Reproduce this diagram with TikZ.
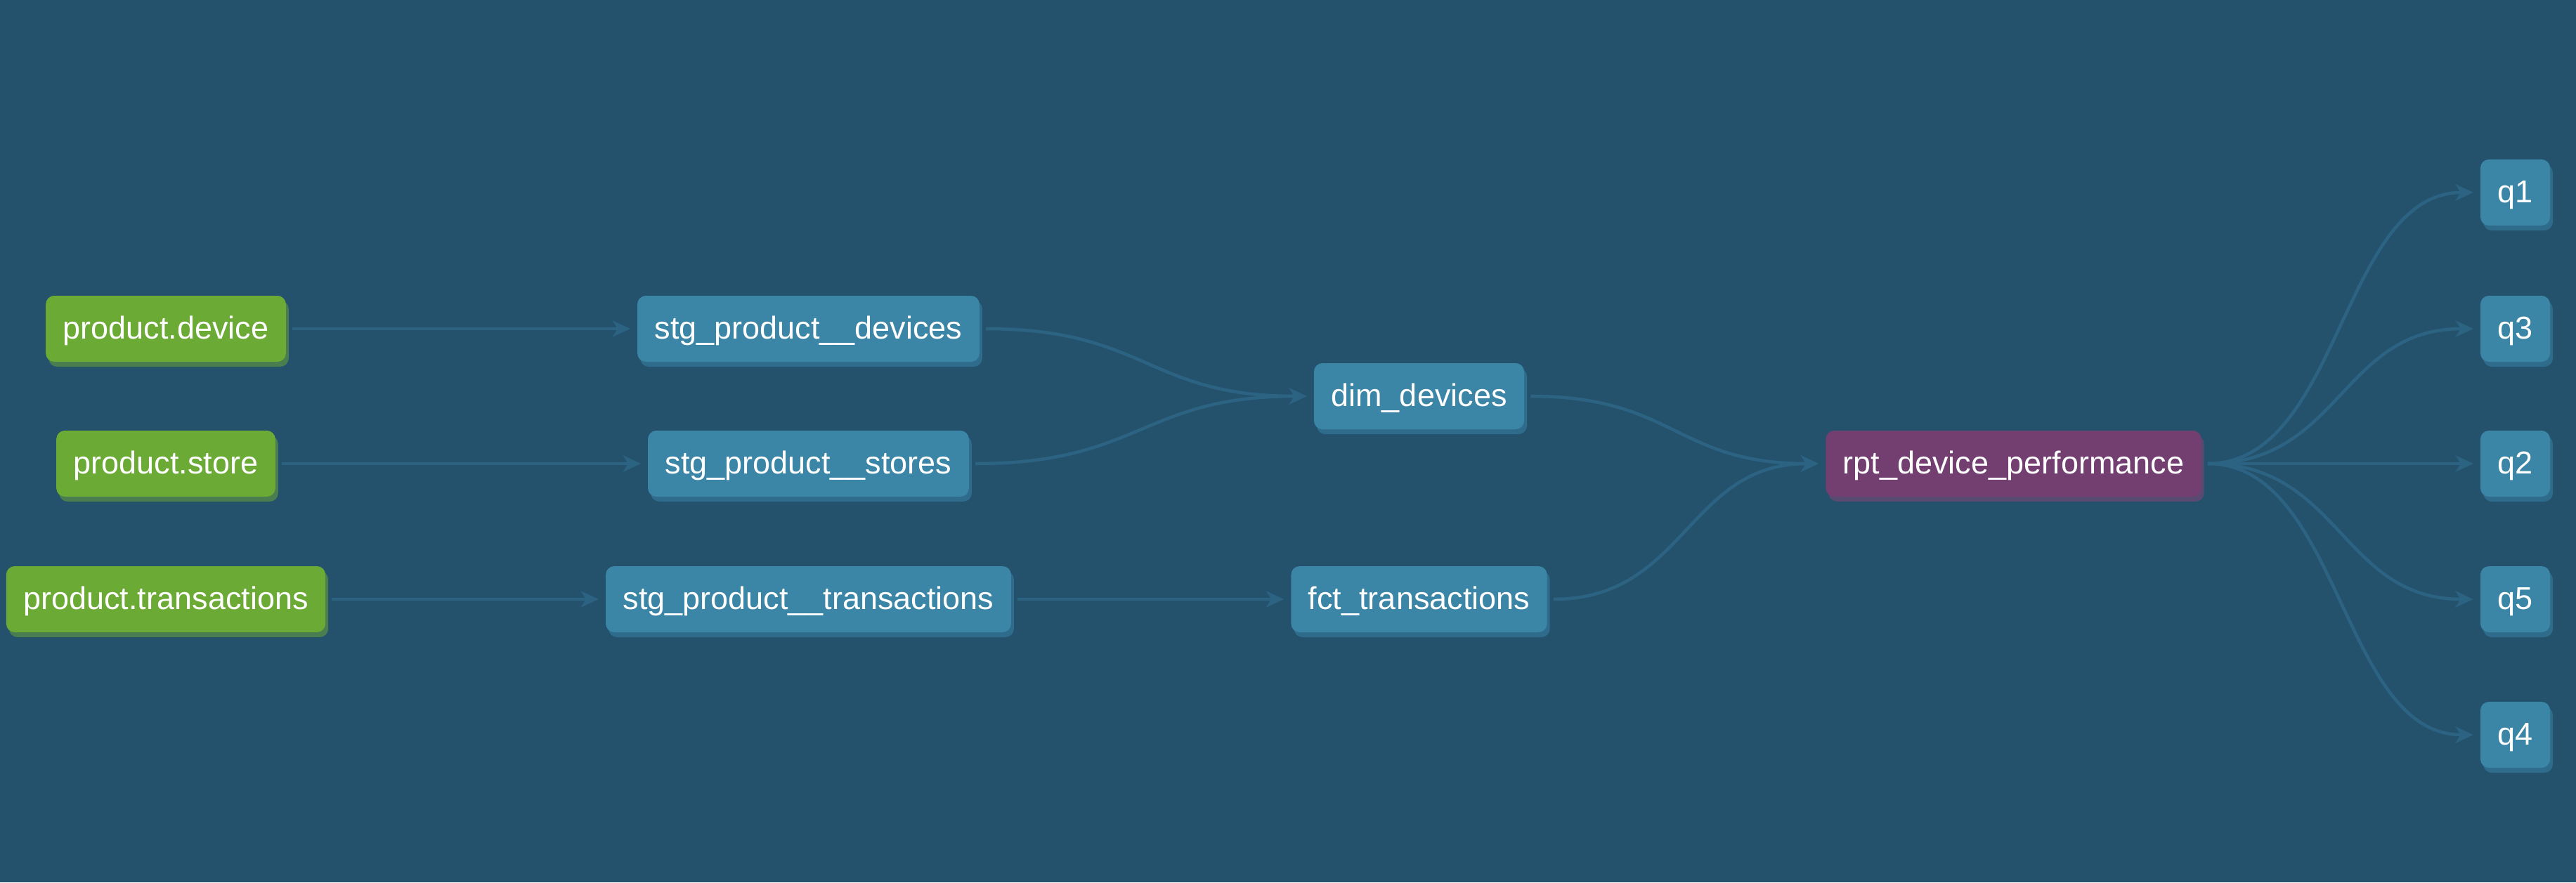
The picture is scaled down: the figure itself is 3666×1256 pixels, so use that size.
\documentclass[tikz,border=0pt]{standalone}
\usepackage{fontspec}
\setmainfont{Liberation Sans}
\usetikzlibrary{arrows.meta,shadows}
\definecolor{bgc}{RGB}{36,82,109}
\definecolor{edgec}{RGB}{45,99,130}
\definecolor{bluen}{RGB}{59,133,166}
\definecolor{blues}{RGB}{47,108,139}
\definecolor{greenn}{RGB}{106,170,53}
\definecolor{greens}{RGB}{74,125,80}
\definecolor{purplen}{RGB}{115,62,112}
\definecolor{purples}{RGB}{88,74,112}
\tikzset{
  nbase/.style={rounded corners=12pt, minimum height=94pt, inner xsep=24.5pt, inner ysep=0pt,
    text=white, font=\fontsize{45}{54}\selectfont, text height=38pt, text depth=10pt},
  srcnode/.style={nbase, fill=greenn, drop shadow={opacity=1, fill=greens, shadow xshift=4pt, shadow yshift=-7pt}},
  modnode/.style={nbase, fill=bluen, drop shadow={opacity=1, fill=blues, shadow xshift=4pt, shadow yshift=-7pt}},
  rptnode/.style={nbase, fill=purplen, drop shadow={opacity=1, fill=purples, shadow xshift=4pt, shadow yshift=-7pt}},
  edge/.style={draw=edgec, line width=4.5pt, shorten <=9pt, shorten >=10pt,
    -{Stealth[length=25pt, width=23pt, inset=7pt]}},
}
\begin{document}
\begin{tikzpicture}[x=1pt,y=-1pt]
\fill[bgc] (0,0) rectangle (3666,1256);
\useasboundingbox (0,0) rectangle (3666,1256);

\node[srcnode] (pdev) at (236,468) {product.device};
\node[srcnode] (pstore) at (236,660) {product.store};
\node[srcnode] (ptrans) at (236,853) {product.transactions};

\node[modnode] (sdev) at (1150.5,468) {stg\_product\_\_devices};
\node[modnode] (sstore) at (1150.5,660) {stg\_product\_\_stores};
\node[modnode] (strans) at (1150.5,853) {stg\_product\_\_transactions};

\node[modnode] (dim) at (2019.5,564) {dim\_devices};
\node[modnode] (fct) at (2019.5,853) {fct\_transactions};

\node[rptnode] (rpt) at (2865.5,660) {rpt\_device\_performance};

\node[modnode] (q1) at (3579.5,274) {q1};
\node[modnode] (q3) at (3579.5,468) {q3};
\node[modnode] (q2) at (3579.5,660) {q2};
\node[modnode] (q5) at (3579.5,853) {q5};
\node[modnode] (q4) at (3579.5,1046) {q4};

\draw[edge] (pdev.east) -- (sdev.west);
\draw[edge] (pstore.east) -- (sstore.west);
\draw[edge] (ptrans.east) -- (strans.west);
\draw[edge] (strans.east) -- (fct.west);

\draw[edge] (sdev.east) .. controls +(237,0) and +(-237,0) .. (dim.west);
\draw[edge] (sstore.east) .. controls +(244,0) and +(-244,0) .. (dim.west);
\draw[edge] (dim.east) .. controls +(214,0) and +(-214,0) .. (rpt.west);
\draw[edge] (fct.east) .. controls +(197,0) and +(-197,0) .. (rpt.west);

\foreach \q in {q1,q3,q2,q5,q4}{
  \draw[edge] (rpt.east) .. controls +(198,0) and +(-198,0) .. (\q.west);
}
\end{tikzpicture}
\end{document}
